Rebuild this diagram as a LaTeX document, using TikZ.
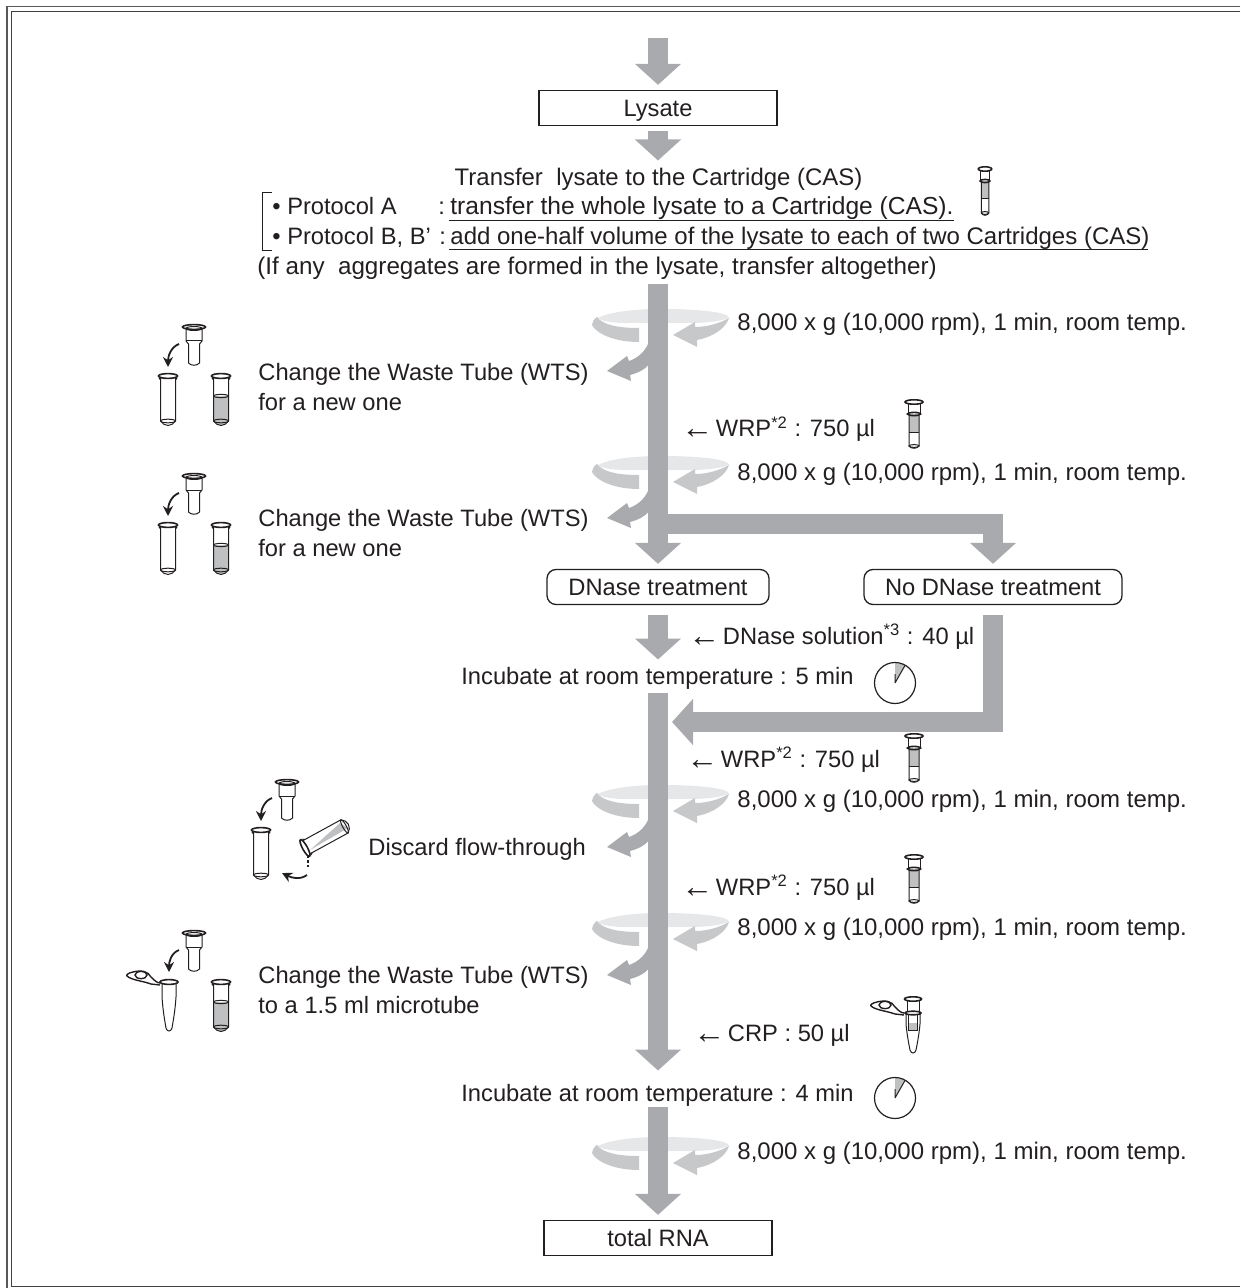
\documentclass[tikz,border=0pt]{standalone}
\usepackage{fontspec}
\setmainfont{Liberation Sans}
\usepackage{xcolor}
\usetikzlibrary{positioning, arrows.meta, shapes.geometric}
\definecolor{flowgray}{HTML}{A9AAAD}
\definecolor{spinlight}{HTML}{E6E7E8}
\definecolor{spindark}{HTML}{C7C8CA}
\definecolor{tubegray}{HTML}{BFC0C2}
\definecolor{inktext}{HTML}{231F20}
\tikzset{
    flow/.style={draw=flowgray, line width=10pt, -{Triangle[length=10.5pt,width=22.5pt]}, shorten >=2.5pt, shorten <=2.5pt},
    txt/.style={anchor=base west, inner sep=0pt, text=inktext},
    plainbox/.style={draw=inktext, line width=0.65pt, inner sep=0pt, minimum height=17.5pt, text height=10.5pt, text depth=2pt, text=inktext},
    roundbox/.style={plainbox, rounded corners=4.5pt},
    tubeline/.style={draw=inktext, line width=0.5pt},
    turn/.style={draw=inktext, line width=0.9pt, -{Stealth[length=5pt,width=5pt]}},
    spin/.pic={
        \fill[spinlight] (-66,0) .. controls (-66,-10) and (-35,-16) .. (2,-16) .. controls (40,-16) and (71,-13) .. (71,-7)
            .. controls (60,-3) and (45,-2) .. (30,-2) -- (-30,-2) .. controls (-48,-2) and (-58,-4) .. (-61,-8) -- cycle;
        \fill[spindark] (-66,0) .. controls (-62,8) and (-45,17) .. (-19,17) -- (-19,3)
            .. controls (-40,3) and (-55,0) .. (-61,-8) .. controls (-64,-6) and (-66,-3) .. (-66,0) -- cycle;
        \fill[spindark] (71,-7) .. controls (68,3) and (55,12) .. (39,15) -- (39,22) -- (15,10) -- (37,-3) -- (37,2)
            .. controls (50,2) and (62,-2) .. (71,-7) -- cycle;
    },
    sideout/.pic={
        \fill[flowgray] (-8,12) .. controls (-10,25) and (-20,33) .. (-29,36) -- (-31,31) -- (-51,46) -- (-27,56) -- (-28,50)
            .. controls (-20,48) and (-12,44) .. (-8,38) -- cycle;
    },
    wastetube/.pic={
        \draw[tubeline] (-7.5,1) -- (-7.5,45) .. controls (-6,48) and (-3,49) .. (0,49.5) .. controls (3,49) and (6,48) .. (7.5,45) -- (7.5,1);
        \draw[tubeline] (0,45) ellipse [x radius=7.5, y radius=1.8];
        \draw[tubeline, line width=0.8pt] (0,0) ellipse [x radius=9.5, y radius=2.4];
        \draw[tubeline] (-9,2) -- (-7.5,4) (9,2) -- (7.5,4);
    },
    wastefull/.pic={
        \fill[tubegray] (-7.5,20) -- (-7.5,45) .. controls (-6,48) and (-3,49) .. (0,49.5) .. controls (3,49) and (6,48) .. (7.5,45) -- (7.5,20) -- cycle;
        \draw[tubeline] (0,20) ellipse [x radius=7.5, y radius=1.6];
        \pic {wastetube};
    },
    cartridge/.pic={
        \draw[tubeline] (-8,1) -- (-8,14) -- (-5.5,17) -- (-5.5,36) .. controls (-3,39) and (3,39) .. (5.5,36) -- (5.5,17) -- (8,14) -- (8,1);
        \draw[tubeline] (-8,14) -- (8,14);
        \draw[tubeline, line width=0.8pt] (0,0) ellipse [x radius=11.5, y radius=2.4];
        \draw[tubeline] (0,1.5) ellipse [x radius=8, y radius=2];
    },
    cartfull/.pic={
        \fill[tubegray] (-6,12) rectangle (6,14) (-5,14) rectangle (5,30);
        \draw[tubeline] (-6,1) -- (-6,11) (6,1) -- (6,11);
        \draw[tubeline] (-5,14) -- (-5,44) .. controls (-3,47) and (3,47) .. (5,44) -- (5,14);
        \draw[tubeline] (-5,30) -- (5,30);
        \draw[tubeline] (0,44) ellipse [x radius=5, y radius=1.4];
        \draw[tubeline, line width=0.8pt] (0,0) ellipse [x radius=9, y radius=2.2];
        \draw[tubeline, line width=0.8pt] (0,12) ellipse [x radius=6.5, y radius=1.6];
    },
    tubecap/.pic={
        \draw[tubeline, line width=0.7pt] (-9,1) .. controls (-12,1) and (-15,-2) .. (-18,-5) .. controls (-21,-11) and (-28,-12) .. (-36,-10)
            .. controls (-41,-9) and (-43,-7) .. (-42,-6) .. controls (-38,-2) and (-26,-1) .. (-18,2) -- (-9,3);
        \draw[tubeline, line width=0.7pt] (-28,-7) ellipse [x radius=6, y radius=3.6];
    },
    microtube/.pic={
        \draw[tubeline] (-7,1) -- (-7,15) .. controls (-6,30) and (-4,40) .. (-3,46) .. controls (-2,50) and (2,50) .. (3,46) .. controls (4,40) and (6,30) .. (7,15) -- (7,1);
        \draw[tubeline, line width=0.8pt] (0,0) ellipse [x radius=9, y radius=2.4];
        \pic {tubecap};
    },
    crptube/.pic={
        \fill[tubegray] (-4.5,24) rectangle (4.5,31);
        \draw[tubeline] (-6,1) -- (-6,13) (6,1) -- (6,13);
        \draw[tubeline] (-7,14) -- (-7,25) .. controls (-6,36) and (-4,46) .. (-3,51) .. controls (-2,55) and (2,55) .. (3,51) .. controls (4,46) and (6,36) .. (7,25) -- (7,14);
        \draw[tubeline] (-4.5,15) -- (-4.5,31) -- (4.5,31) -- (4.5,15);
        \draw[tubeline, line width=0.8pt] (0,0) ellipse [x radius=8.5, y radius=2.2];
        \draw[tubeline, line width=0.8pt] (0,14) ellipse [x radius=8, y radius=1.8];
        \pic at (0,13) {tubecap};
    },
    clockface/.pic={
        \fill[tubegray] (0,0) -- (0,-20) .. controls (3.5,-20) and (7,-19) .. (10,-17.5) -- cycle;
        \draw[tubeline] (0,0) -- (0,-9) (0,0) -- (10,-17.5);
        \draw[tubeline, line width=0.6pt] (0,0) circle [radius=20.5];
    },
    wasteswap/.pic={
        \pic at (0,0) {wastetube};
        \pic at (26,-49) {cartridge};
        \pic at (53,0) {wastefull};
        \draw[turn] (11,-32) .. controls (3,-29) and (0,-20) .. (0,-9);
    }
}
\newcommand{\lbl}{\fontsize{11.85}{14.5}\selectfont}
\newcommand{\lblwide}[1]{\fontsize{#1}{14.5}\selectfont}
\newcommand{\addarrow}{\raisebox{-1pt}{\fontsize{16}{14}\selectfont ←}\kern-2pt\ }
\begin{document}
\begin{tikzpicture}[x=0.5pt, y=-0.5pt, every node/.append style={font=\lbl}]
\useasboundingbox (0,0) rectangle (1240,1288);
\draw[draw=inktext!75, line width=0.6pt] (1240,6.5) -- (7,6.5) -- (7,1288);
\draw[draw=inktext!85, line width=0.6pt] (1240,11.5) -- (11.5,11.5) -- (11.5,1286.5) -- (1240,1286.5);

\node[plainbox, minimum width=119pt] (lysate) at (658,108) {Lysate};
\node[roundbox, minimum width=111pt] (dnase) at (658,587) {DNase treatment};
\node[roundbox, minimum width=129pt] (nodnase) at (993,587) {No DNase treatment};
\node[plainbox, minimum width=114pt] (rna) at (658,1238) {total RNA};

\coordinate (feed) at (658,38);
\coordinate (lysateend) at (658,165.5);
\coordinate (mainstart) at (658,284);
\coordinate (branch) at (658,524);
\coordinate (dnaseend) at (658,664.5);
\coordinate (washstart) at (658,693);
\coordinate (washend) at (658,1075.5);
\coordinate (elutestart) at (658,1107);
\coordinate (merge) at (667,722);

\foreach \y in {325,472,801,929} {
    \pic at (658,\y) {spin};
    \pic at (658,\y) {sideout};
}
\pic at (658,1153) {spin};

\draw[flow, shorten <=0pt] (feed) -- (lysate.north);
\draw[flow] (lysate.south) -- (lysateend);
\draw[flow, shorten <=0pt] (mainstart) -- (dnase.north);
\draw[flow, shorten <=0pt] (branch) -| (nodnase.north);
\draw[flow, shorten <=5pt] (dnase.south) -- (dnaseend);
\draw[flow, shorten <=5pt] (nodnase.south) |- (merge);
\draw[flow, shorten <=0pt] (washstart) -- (washend);
\draw[flow, shorten <=0pt] (elutestart) -- (rna.north);

\node[txt, anchor=base, font=\lblwide{11.97}] (transfer) at (658.5,186) {Transfer\ \ lysate to the Cartridge (CAS)};
\node[txt] (proa) at (272,215) {• Protocol A};
\node[txt] (proacolon) at (438,215) {:};
\node[txt, font=\lblwide{12.3}] (proatext) at (450,215) {transfer the whole lysate to a Cartridge (CAS).};
\node[txt] (prob) at (272,245) {• Protocol B, B'};
\node[txt] (probcolon) at (439,245) {:};
\node[txt, font=\lblwide{12}] (probtext) at (450,245) {add one-half volume of the lysate to each of two Cartridges (CAS)};
\node[txt, font=\lblwide{12.1}] (ifany) at (257,275) {(If any\ \ aggregates are formed in the lysate, transfer altogether)};
\draw[draw=inktext, line width=0.5pt] (449,221) -- (954,221) (449,250) -- (1148,250);
\draw[draw=inktext, line width=0.5pt] (272,193) -- (262,193) -- (262,251) -- (272,251);

\foreach \y/\n in {331/a,480/b,807/c,935/d,1159/e} {
    \node[txt, font=\lblwide{12}] (speed\n) at (737,\y) {8,000 x g (10,000 rpm), 1 min, room temp.};
}
\node[txt] (changea) at (258,380) {Change the Waste Tube (WTS)};
\node[txt] (newa) at (258,410) {for a new one};
\node[txt] (changeb) at (258,526) {Change the Waste Tube (WTS)};
\node[txt] (newb) at (258,556) {for a new one};
\node[txt] (discard) at (368,855) {Discard flow-through};
\node[txt] (changec) at (258,983) {Change the Waste Tube (WTS)};
\node[txt] (newc) at (258,1013) {to a 1.5 ml microtube};

\node[txt] (wrpa) at (681,437) {\addarrow WRP\textsuperscript{*2} : 750 µl};
\node[txt] (dnasesol) at (688,644) {\addarrow DNase solution\textsuperscript{*3} : 40 µl};
\node[txt] (incuba) at (461,684) {Incubate at room temperature : 5 min};
\node[txt] (wrpb) at (686,767) {\addarrow WRP\textsuperscript{*2} : 750 µl};
\node[txt] (wrpc) at (681,895) {\addarrow WRP\textsuperscript{*2} : 750 µl};
\node[txt] (crp) at (693,1041) {\addarrow CRP : 50 µl};
\node[txt] (incubb) at (461,1101) {Incubate at room temperature : 4 min};

\pic[xscale=0.75] at (985,169) {cartfull};
\pic at (914,402) {cartfull};
\pic at (914,736) {cartfull};
\pic at (914,857) {cartfull};
\pic at (913,999) {crptube};
\pic at (895,683) {clockface};
\pic at (895,1098) {clockface};

\pic at (168,376) {wasteswap};
\pic at (168,525) {wasteswap};

\pic at (261,830) {wastetube};
\pic at (287,782) {cartridge};
\draw[turn] (272,798) .. controls (264,801) and (261,810) .. (261,821);
\fill[tubegray] (310,850) -- (348,828) -- (340,823) -- cycle;
\pic[rotate=118.7] at (305,848) {wastetube};
\draw[inktext, line width=0.6pt, dash pattern=on 1.5pt off 1pt] (308,855) -- (308,867);
\draw[turn] (307,875) .. controls (300,880) and (292,878) .. (282,873);

\pic at (169,982) {microtube};
\pic at (194,933) {cartridge};
\pic at (221,982) {wastefull};
\draw[turn] (179,950) .. controls (171,953) and (169,962) .. (169,972);
\end{tikzpicture}
\end{document}
